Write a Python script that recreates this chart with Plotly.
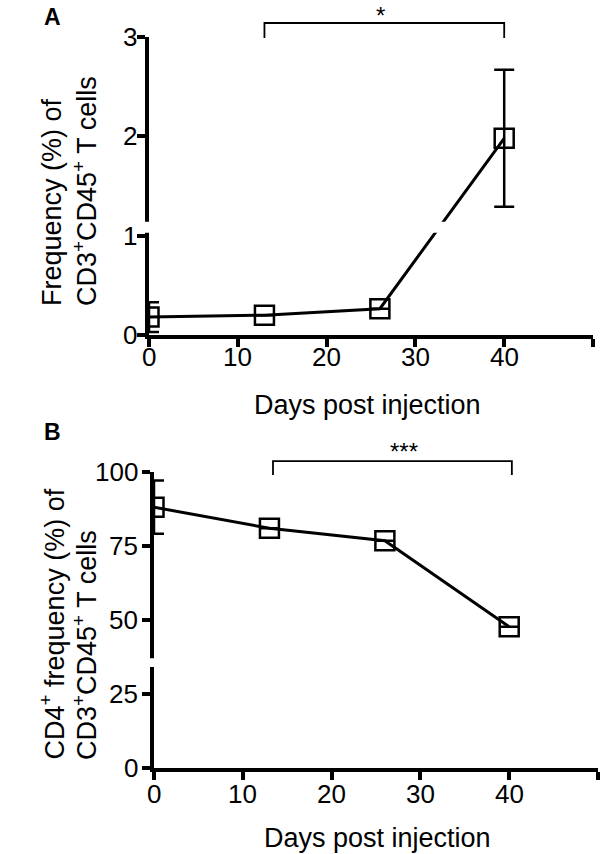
import plotly.graph_objects as go

# ---- data ----
days = [0, 13, 26, 40]
freq_a = [0.18, 0.20, 0.265, 1.98]
err_a = [0.15, None, None, 0.69]
cd4_b = [88, 80.9, 76.7, 47.6]
err_b = [9, None, None, None]
x_tickvals = [0, 10, 20, 30, 40, 50]
x_ticktext = ["0", "10", "20", "30", "40", ""]
ya_tickvals = [0, 1, 2, 3]
ya_ticktext = ["0", "1", "2", "3"]
yb_tickvals = [0, 25, 50, 75, 100]
yb_ticktext = ["0", "25", "50", "75", "100"]
bracket_a = [13, 40]
bracket_b = [13.4, 40.3]
sig_a = "*"
sig_b = "***"
break_a = [1.03, 1.14]
break_b = [34, 37]

W, H = 600, 854
FONT = "Liberation Sans, Arial, Helvetica, sans-serif"


def fx(p):
    return p / W


def fy(p):
    return 1 - p / H


fig = go.Figure()

# panel A
fig.add_trace(go.Scatter(
    x=days, y=freq_a, mode="lines+markers", xaxis="x", yaxis="y",
    line=dict(color="black", width=3),
    marker=dict(symbol="square-open", size=19, color="black", line=dict(width=2.5, color="black")),
    cliponaxis=True, showlegend=False))
fig.add_trace(go.Scatter(
    x=days, y=freq_a, mode="markers", xaxis="x", yaxis="y",
    marker=dict(size=1, color="rgba(0,0,0,0)"),
    error_y=dict(type="data", array=err_a, color="black", thickness=2.5, width=10),
    cliponaxis=False, showlegend=False))

# panel B
fig.add_trace(go.Scatter(
    x=days, y=cd4_b, mode="lines+markers", xaxis="x2", yaxis="y2",
    line=dict(color="black", width=3),
    marker=dict(symbol="square-open", size=19, color="black", line=dict(width=2.5, color="black")),
    cliponaxis=True, showlegend=False))
fig.add_trace(go.Scatter(
    x=days, y=cd4_b, mode="markers", xaxis="x2", yaxis="y2",
    marker=dict(size=1, color="rgba(0,0,0,0)"),
    error_y=dict(type="data", array=err_b, color="black", thickness=2.5, width=10),
    cliponaxis=False, showlegend=False))

axis_common = dict(
    showgrid=False, zeroline=False, showline=True, linecolor="black", linewidth=4,
    ticks="outside", ticklen=8, tickwidth=3.5, tickcolor="black", automargin=False,
    showticklabels=False, tickmode="array",
)

fig.update_layout(
    width=W, height=H,
    margin=dict(l=0, r=0, t=0, b=0, pad=0, autoexpand=False),
    paper_bgcolor="white", plot_bgcolor="white",
    xaxis=dict(domain=[fx(149), fx(593)], range=[0, 50], anchor="y",
               tickvals=x_tickvals, **axis_common),
    yaxis=dict(domain=[fy(335), fy(37)], range=[0, 3], anchor="x",
               tickvals=ya_tickvals, **axis_common),
    xaxis2=dict(domain=[fx(154), fx(598)], range=[0, 50], anchor="y2",
                tickvals=x_tickvals, **axis_common),
    yaxis2=dict(domain=[fy(767.7), fy(471.7)], range=[0, 100], anchor="x2",
                tickvals=yb_tickvals, **axis_common),
)

shapes = []
# axis breaks (white bands)
shapes.append(dict(type="rect", xref="x domain", yref="y", x0=-0.05, x1=1.0,
                   y0=break_a[0], y1=break_a[1], fillcolor="white", line=dict(width=0), layer="above"))
shapes.append(dict(type="rect", xref="x2 domain", yref="y2", x0=-0.05, x1=1.0,
                   y0=break_b[0], y1=break_b[1], fillcolor="white", line=dict(width=0), layer="above"))
# significance brackets
for xr, yr, br, top, leg in [("x", "y domain", bracket_a, 1.047, 0.997),
                              ("x2", "y2 domain", bracket_b, 1.036, 0.989)]:
    shapes.append(dict(type="path", xref=xr, yref=yr,
                       path=f"M {br[0]} {leg} L {br[0]} {top} L {br[1]} {top} L {br[1]} {leg}",
                       line=dict(color="black", width=1.8)))
fig.update_layout(shapes=shapes)

ann = []


def label(text, xref, x, y, size, yref="paper", **kw):
    d = dict(text=text, xref=xref, yref=yref, x=x, y=y, showarrow=False,
             xanchor="center", yanchor="middle",
             font=dict(family=FONT, size=size, color="black"))
    d.update(kw)
    ann.append(d)


# x tick labels (placed close to the axis as in the original)
for xr, ypix in [("x", 357), ("x2", 794)]:
    for v, t in zip(x_tickvals, x_ticktext):
        if t:
            label(t, xr, v, fy(ypix), 26)
# y tick labels
for yr, xpix, vals, texts in [("y", 139, ya_tickvals, ya_ticktext),
                              ("y2", 140, yb_tickvals, yb_ticktext)]:
    for v, t in zip(vals, texts):
        label(t, "paper", fx(xpix), v, 26, yref=yr, xanchor="right")

label(sig_a, "x", 26.1, fy(15), 24)
label(sig_b, "x2", 28.2, fy(451), 24)
label("<b>A</b>", "paper", fx(52), fy(17), 23)
label("<b>B</b>", "paper", fx(52), fy(432), 23)
label("Days post injection", "paper", fx(367), fy(405), 27)
label("Days post injection", "paper", fx(377), fy(838), 27)
# y titles
for txt, xc, yb in [("Frequency (%) of", 52, 308),
                     ("CD3<sup>+</sup>CD45<sup>+</sup> T cells", 85, 308),
                     ("CD4<sup>+</sup> frequency (%) of", 52, 762),
                     ("CD3<sup>+</sup>CD45<sup>+</sup> T cells", 85, 762)]:
    label(txt, "paper", fx(xc), fy(yb), 27, textangle=-90, yanchor="bottom")
fig.update_layout(annotations=ann)

fig.write_html("out.html", config={"displayModeBar": False},
               post_script="document.body.style.margin='0px';")
